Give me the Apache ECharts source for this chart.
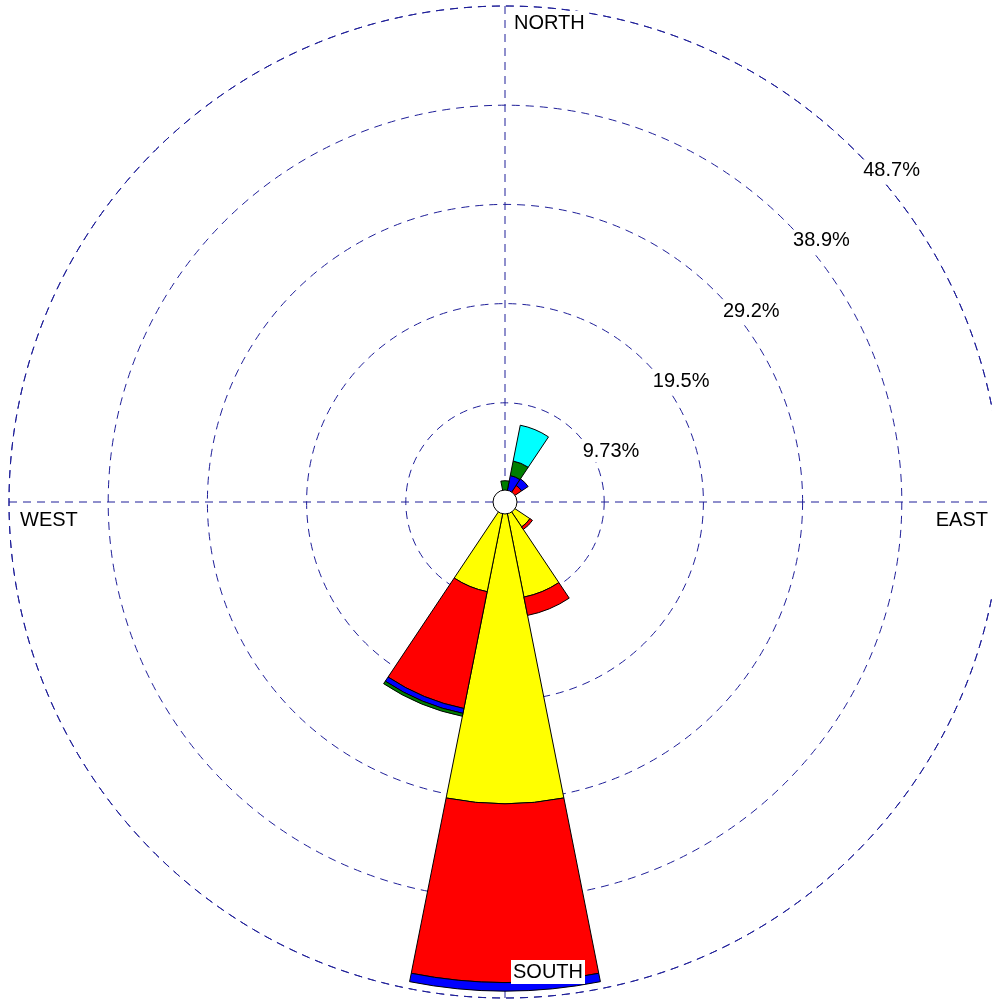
<!DOCTYPE html>
<html>
<head>
<meta charset="utf-8">
<script src="https://cdn.jsdelivr.net/npm/echarts@6/dist/echarts.min.js"></script>
<style>
html,body{margin:0;padding:0;background:#fff;}
#chart{width:992px;height:999px;}
</style>
</head>
<body>
<div id="chart"></div>
<script>
// ---- data ----
const directions = ['N','NNE','NE','ENE','E','ESE','SE','SSE','S','SSW','SW','WSW','W','WNW','NW','NNW'];
const classNames = ['Class 1','Class 2','Class 3','Class 4','Class 5'];
const class1Yellow = [0.30, 0.30, 0.70, 0, 0, 0, 2.94, 9.51, 29.60, 8.97, 0, 0, 0, 0, 0, 0];
const class2Red    = [0.30, 0.50, 1.26, 0, 0, 0, 0.30, 1.83, 17.53, 11.68, 0, 0, 0, 0, 0, 0];
const class3Blue   = [0.50, 1.85, 0.77, 0, 0, 0, 0, 0, 0.84, 0.49, 0, 0, 0, 0, 0, 0];
const class4Green  = [0.99, 1.45, 0, 0, 0, 0, 0, 0, 0, 0.29, 0, 0, 0, 0, 0, 0];
const class5Cyan   = [0, 3.58, 0, 0, 0, 0, 0, 0, 0, 0, 0, 0, 0, 0, 0, 0];
const ringInterval = 9.73;
const ringLabels = ['9.73%','19.5%','29.2%','38.9%','48.7%'];
const compassLabels = ['NORTH','EAST','SOUTH','WEST'];
const calmValue = [1];

// ---- layout ----
const CX = 505, CY = 502, R = 496;
const RMAX = ringInterval * ringLabels.length;
const FONT = '20px "Liberation Sans", Arial, sans-serif';
const gridStyle = {color:'#1f1f99', width:1, type:[8,6]};
const colors = ['#ffff00','#ff0000','#0000ff','#007f00','#00ffff'];
const classData = [class1Yellow, class2Red, class3Blue, class4Green, class5Cyan];

const chart = echarts.init(document.getElementById('chart'), null, {renderer:'canvas'});

const series = classData.map((arr, i) => ({
  name: classNames[i],
  type: 'bar',
  coordinateSystem: 'polar',
  polarIndex: 1,
  stack: 'wind',
  barCategoryGap: '0%',
  data: arr.map(v => v === 0 ? '-' : v),
  itemStyle: {color: colors[i], borderColor:'#000', borderWidth:1},
  silent: true,
  animation: false
}));
series.push({
  type:'pie', center:[CX, CY], radius:[0, 12], silent:true, animation:false, z:10,
  label:{show:false}, labelLine:{show:false},
  itemStyle:{color:'#fff', borderColor:'#000', borderWidth:1},
  data: calmValue
});

const pxPerUnit = R / RMAX;
const graphics = [];
ringLabels.forEach((t, i) => {
  const r = (i + 1) * ringInterval * pxPerUnit;
  graphics.push({type:'text', z:100, x: CX + r*Math.SQRT1_2 + 6.5, y: CY - r*Math.SQRT1_2 + 19.5,
    style:{text:t, font:FONT, fill:'#000', align:'left', textAlign:'left', verticalAlign:'middle', textVerticalAlign:'middle', backgroundColor:'#fff', padding:[1,1]}});
});
// NORTH, EAST, SOUTH, WEST
graphics.push({type:'text', z:100, x: CX + 7, y: CY - 479,
  style:{text:compassLabels[0], font:FONT, fill:'#000', align:'left', textAlign:'left', verticalAlign:'middle', textVerticalAlign:'middle', backgroundColor:'#fff', padding:[2,2]}});
graphics.push({type:'text', z:100, x: CX + 485, y: CY + 18,
  style:{text:compassLabels[1], font:FONT, fill:'#000', align:'right', textAlign:'right', verticalAlign:'middle', textVerticalAlign:'middle', backgroundColor:'#fff', padding:[2,2]}});
graphics.push({type:'text', z:100, x: CX + 6, y: CY + 470,
  style:{text:compassLabels[2], font:FONT, fill:'#000', align:'left', textAlign:'left', verticalAlign:'middle', textVerticalAlign:'middle', backgroundColor:'#fff', padding:[2,2]}});
graphics.push({type:'text', z:100, x: CX - 487, y: CY + 18,
  style:{text:compassLabels[3], font:FONT, fill:'#000', align:'left', textAlign:'left', verticalAlign:'middle', textVerticalAlign:'middle', backgroundColor:'#fff', padding:[2,2]}});

chart.setOption({
  animation:false,
  backgroundColor:'#fff',
  polar:[
    {center:[CX, CY], radius:R},
    {center:[CX, CY], radius:R}
  ],
  angleAxis:[
    {polarIndex:0, type:'value', min:0, max:360, interval:90, startAngle:90, clockwise:true,
     axisLine:{show:false}, axisTick:{show:false}, axisLabel:{show:false},
     splitLine:{show:true, lineStyle:gridStyle}},
    {polarIndex:1, type:'category', data:directions, startAngle:90 + 360/directions.length/2, clockwise:true,
     axisLine:{show:false}, axisTick:{show:false}, axisLabel:{show:false}, splitLine:{show:false}}
  ],
  radiusAxis:[
    {polarIndex:0, type:'value', min:0, max:RMAX, interval:ringInterval,
     axisLine:{show:false}, axisTick:{show:false}, axisLabel:{show:false},
     splitLine:{show:true, lineStyle:gridStyle}},
    {polarIndex:1, type:'value', min:0, max:RMAX,
     axisLine:{show:false}, axisTick:{show:false}, axisLabel:{show:false}, splitLine:{show:false}}
  ],
  series: series,
  graphic: graphics
});
</script>
</body>
</html>
